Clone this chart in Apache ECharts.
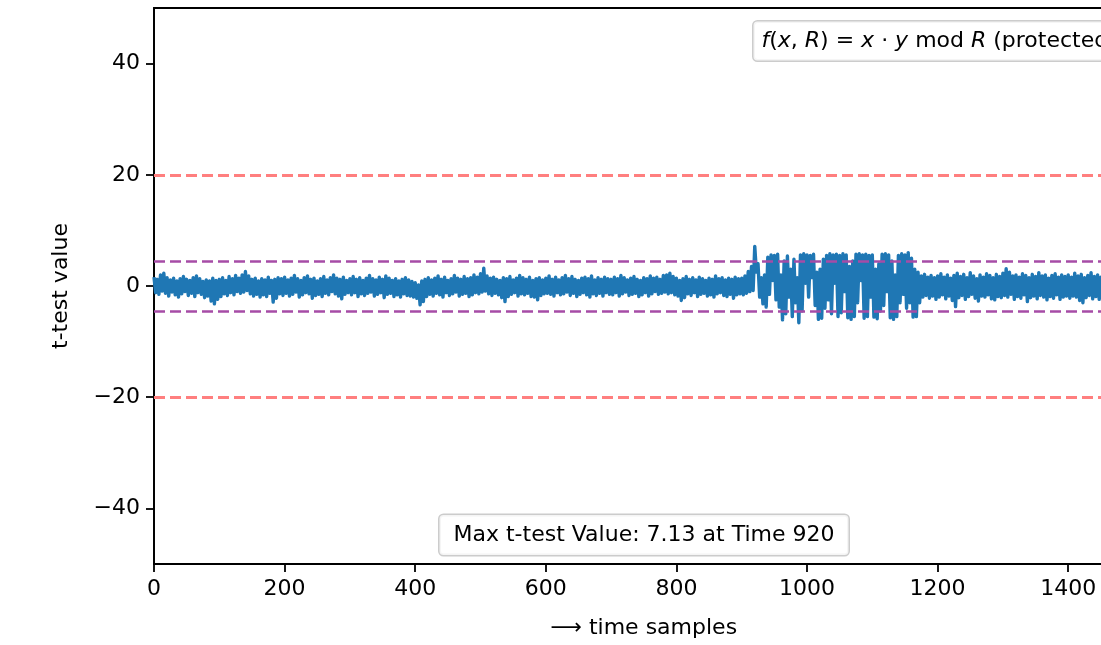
<!DOCTYPE html>
<html>
<head>
<meta charset="utf-8">
<script src="https://cdn.jsdelivr.net/npm/echarts@6/dist/echarts.min.js"></script>
<style>
html,body{margin:0;padding:0;overflow:hidden;background:#fff;}
#c{width:1200px;height:645px;}
</style>
</head>
<body>
<div id="c"></div>
<script>
// ---- data ----
// t-test trace, read as an envelope: per 5-sample bin, the upper and lower extreme
const binSize = 5;
const tUpper = [
  1.6,1.2,2.0,2.3,1.5,1.1,1.4,0.9,1.3,1.7,1.2,1.0,1.5,1.8,1.3,0.8,1.1,0.9,1.4,1.0,
  1.2,1.5,1.0,1.7,1.3,1.9,1.4,2.0,2.6,1.8,1.2,1.4,0.9,1.3,1.1,1.6,1.0,1.2,1.5,1.3,
  1.6,1.1,1.4,1.9,1.3,1.0,1.5,1.8,1.2,1.4,0.9,1.3,1.7,1.1,1.5,2.0,1.4,1.2,1.6,1.0,
  1.3,1.7,1.2,1.5,1.0,1.4,1.9,1.3,1.1,1.6,1.2,1.8,1.4,1.0,1.3,0.9,1.2,1.5,1.1,0.8,
  0.6,0.2,0.9,1.2,1.5,1.1,1.4,1.8,1.2,1.6,1.0,1.3,1.9,1.4,1.2,1.7,1.3,1.5,2.0,1.6,
  2.2,3.2,1.8,1.4,1.6,1.2,1.0,1.5,1.3,1.7,1.1,1.4,1.9,1.5,1.2,1.6,1.0,1.3,1.5,1.1,
  1.4,1.8,1.2,1.6,1.1,1.5,1.9,1.3,1.7,1.2,1.0,1.4,1.6,1.3,1.8,1.1,1.5,1.2,1.6,1.3,
  1.2,1.6,1.3,1.9,1.5,1.1,1.4,1.7,1.2,1.0,1.5,1.3,1.8,1.4,1.6,1.2,1.9,2.0,2.3,1.7,
  1.4,1.0,1.3,1.7,1.2,1.5,1.1,1.6,1.3,1.0,1.4,1.2,1.8,1.3,1.5,1.1,1.4,1.2,1.6,1.3,
  1.4,1.8,2.6,3.5,7.13,4.0,1.5,2.0,5.2,5.6,5.5,5.7,2.0,4.5,5.4,3.0,4.8,1.5,5.6,5.8,
  5.6,5.5,5.7,2.5,3.0,4.8,5.5,5.8,5.6,5.7,5.5,5.8,5.6,3.5,4.5,5.7,5.8,5.6,5.7,5.5,
  5.6,3.0,4.0,5.7,5.8,5.6,4.5,2.0,5.5,5.8,5.6,6.0,5.0,3.0,2.5,1.8,2.1,1.6,1.9,1.5,
  1.8,2.2,1.6,2.0,1.4,1.9,2.3,1.7,2.1,1.5,2.4,1.8,1.3,2.0,1.6,2.2,1.9,1.5,2.1,1.7,
  2.3,3.1,2.5,1.8,2.0,1.6,2.2,1.9,1.5,2.1,1.7,2.4,1.8,2.0,1.4,1.9,2.2,1.6,2.0,1.7,
  2.0,1.6,2.3,1.8,2.1,1.5,1.9,2.4,1.7,2.0,1.6,2.2,1.8,1.5,2.1,1.9,1.6,2.0,1.7,1.8
];
const tLower = [
  -1.2,-1.5,-0.9,-1.3,-1.8,-1.1,-1.6,-2.0,-1.4,-1.0,-1.7,-1.3,-1.9,-1.2,-1.5,-2.1,-1.8,-2.7,-3.2,-2.4,
  -1.9,-1.4,-1.7,-1.2,-1.6,-1.0,-1.3,-1.1,-0.8,-1.4,-1.8,-1.5,-2.0,-1.6,-1.9,-1.3,-2.9,-2.2,-1.4,-1.7,
  -1.3,-1.8,-1.5,-1.1,-2.0,-1.6,-1.2,-1.4,-2.2,-1.7,-1.5,-1.9,-1.3,-1.6,-1.0,-1.4,-1.8,-2.3,-1.5,-1.2,
  -1.6,-1.2,-1.9,-1.4,-1.7,-1.3,-1.1,-1.8,-1.5,-1.2,-2.1,-1.5,-1.3,-1.9,-1.6,-2.0,-1.4,-1.7,-1.8,-2.0,
  -2.2,-3.4,-2.8,-1.9,-1.5,-1.8,-1.3,-1.6,-2.0,-1.2,-1.7,-1.4,-1.1,-1.8,-1.5,-1.3,-1.9,-1.6,-1.2,-1.4,
  -1.1,-0.9,-1.4,-1.7,-1.3,-1.6,-2.1,-2.8,-1.9,-1.5,-1.2,-1.8,-1.4,-1.6,-1.3,-1.9,-2.0,-2.5,-1.7,-1.4,
  -1.3,-1.5,-1.8,-1.2,-1.6,-1.4,-1.1,-1.7,-1.3,-1.9,-1.5,-1.2,-1.6,-2.0,-1.4,-1.7,-1.3,-1.8,-1.2,-1.5,
  -1.6,-1.2,-1.8,-1.4,-1.1,-1.7,-1.5,-1.3,-1.9,-1.6,-1.2,-1.8,-1.4,-1.0,-1.5,-1.3,-1.1,-1.4,-1.2,-1.6,
  -1.8,-2.6,-2.1,-1.4,-1.7,-1.2,-1.9,-1.5,-1.3,-1.8,-1.6,-2.0,-1.4,-1.2,-1.7,-1.9,-1.5,-2.2,-1.6,-1.4,
  -1.6,-1.3,-1.0,-0.8,2.5,-2.0,-3.2,-3.8,-1.5,1.0,-2.5,-3.8,-6.1,-5.0,-2.0,-5.5,-3.0,-6.6,-4.5,0.5,
  -2.0,1.5,-3.5,-6.0,-5.8,-4.0,-2.5,-5.0,0.5,-5.5,-4.8,-1.0,-5.7,-6.0,-5.5,-3.0,1.0,-5.8,-5.5,-2.0,
  -5.6,-5.9,-4.5,-3.5,-1.0,-5.7,-6.0,-5.5,-3.0,-1.5,-4.0,-3.0,-5.6,-5.5,-3.0,-2.0,-1.7,-2.2,-1.8,-2.4,
  -2.0,-1.6,-2.3,-1.8,-2.6,-3.7,-2.1,-1.7,-2.4,-1.9,-1.5,-2.2,-2.7,-1.8,-2.0,-1.6,-2.3,-2.5,-1.9,-2.1,
  -1.7,-2.0,-1.5,-2.4,-1.9,-2.2,-1.6,-2.8,-2.1,-1.8,-2.3,-1.7,-2.0,-2.5,-1.9,-2.2,-1.6,-2.4,-2.0,-1.8,
  -2.2,-1.8,-2.0,-2.6,-3.0,-2.1,-1.7,-2.3,-1.9,-2.4,-2.0,-1.6,-2.2,-1.9,-2.5,-1.8,-2.1,-2.3,-1.7,-2.0
];
const xTickValues = [0,200,400,600,800,1000,1200,1400];
const yTickValues = [-40,-20,0,20,40];
const redThresholds = [20,-20];
const purpleThresholds = [4.5,-4.5];
const xMax = 1500;
const legendText = '{i|f}({i|x}, {i|R}) = {i|x} · {i|y} mod {i|R} (protected)';
const maxText = 'Max t-test Value: 7.13 at Time 920';

// ---- chart ----
const seriesData = [];
tUpper.forEach((hi, i) => {
  seriesData.push([i * binSize, hi]);
  seriesData.push([i * binSize + binSize / 2, tLower[i]]);
});
const FONT = 'DejaVu Sans';
const chart = echarts.init(document.getElementById('c'));
const minusFmt = v => v < 0 ? '\u2212' + Math.abs(v) : String(v);
chart.setOption({
  animation:false,
  grid:{left:154, top:8, width:979.5, height:556, show:true, borderColor:'#000', borderWidth:1.8, backgroundColor:'transparent'},
  xAxis:{
    type:'value', min:0, max:xMax,
    name:'\u27F6 time samples', nameLocation:'middle', nameGap:53,
    nameTextStyle:{fontFamily:FONT, fontSize:22, color:'#000'},
    axisLine:{show:true, onZero:false, lineStyle:{color:'#000', width:1.8}},
    axisTick:{show:true, inside:false, length:8, lineStyle:{color:'#000', width:1.8}, customValues:xTickValues},
    axisLabel:{fontFamily:FONT, fontSize:22, color:'#000', margin:14, formatter:v=>String(v), customValues:xTickValues},
    splitLine:{show:false}
  },
  yAxis:{
    type:'value', min:-50, max:50,
    name:'t-test value', nameLocation:'middle', nameGap:82, nameRotate:90,
    nameTextStyle:{fontFamily:FONT, fontSize:22, color:'#000'},
    axisLine:{show:true, onZero:false, lineStyle:{color:'#000', width:1.8}},
    axisTick:{show:true, inside:false, length:8, lineStyle:{color:'#000', width:1.8}, customValues:yTickValues},
    axisLabel:{fontFamily:FONT, fontSize:22, color:'#000', margin:14, formatter:minusFmt, customValues:yTickValues},
    splitLine:{show:false}
  },
  series:[
    {type:'line', data:seriesData, showSymbol:false, symbol:'none',
     lineStyle:{color:'#1f77b4', width:3.4, join:'round'}, z:2},
    {type:'line', data:[], z:3, silent:true,
     markLine:{silent:true, symbol:['none','none'], label:{show:false},
       lineStyle:{color:'#ff7f7f', width:3, type:[11,5]},
       data:redThresholds.map(v=>({yAxis:v}))}},
    {type:'line', data:[], z:4, silent:true,
     markLine:{silent:true, symbol:['none','none'], label:{show:false},
       lineStyle:{color:'#a64ca6', width:2.6, type:[11,5]},
       data:purpleThresholds.map(v=>({yAxis:v}))}}
  ],
  graphic:[
    {type:'text', left:752, top:20, z:100,
     style:{text:legendText, fontFamily:FONT, fontSize:22, fill:'#000',
       backgroundColor:'rgba(255,255,255,0.8)', borderColor:'#cccccc', borderWidth:1.5, borderRadius:4,
       padding:[9,9,8,8],
       rich:{i:{fontStyle:'italic', fontFamily:FONT, fontSize:22}}}},
    {type:'text', x:644, y:535, z:100,
     style:{text:maxText, fontFamily:FONT, fontSize:22, fill:'#000', align:'center', verticalAlign:'middle',
       backgroundColor:'rgba(255,255,255,0.8)', borderColor:'#cccccc', borderWidth:1.5, borderRadius:4,
       padding:[9,14,9,14]}}
  ]
});
</script>
</body>
</html>
